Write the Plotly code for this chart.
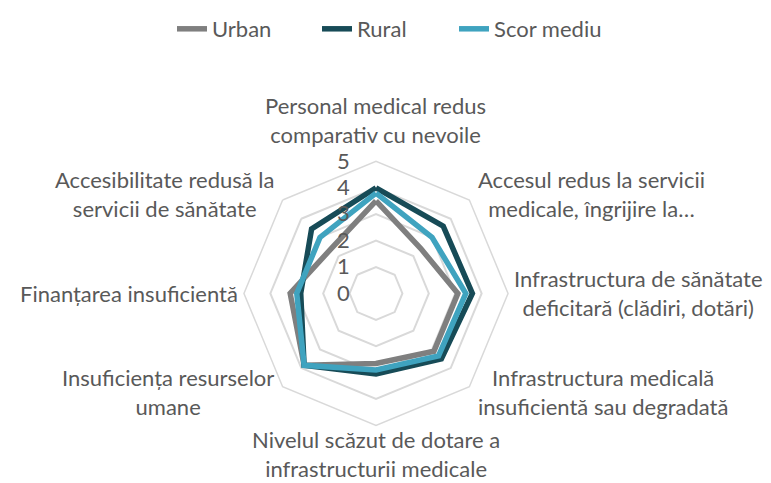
import math
import plotly.graph_objects as go

categories = [
    "Personal medical redus<br>comparativ cu nevoile",
    "Accesul redus la servicii<br>medicale, îngrijire la…",
    "Infrastructura de sănătate<br>deficitară (clădiri, dotări)",
    "Infrastructura medicală<br>insuficientă sau degradată",
    "Nivelul scăzut de dotare a<br>infrastructurii medicale",
    "Insuficiența resurselor<br>umane",
    "Finanțarea insuficientă",
    "Accesibilitate redusă la<br>servicii de sănătate",
]

urban = [3.5, 2.4, 3.1, 3.1, 2.65, 3.85, 3.25, 2.4]
rural = [4.0, 3.6, 3.65, 3.5, 3.05, 3.85, 2.85, 3.45]
scor_mediu = [3.8, 3.0, 3.4, 3.35, 2.9, 3.85, 3.0, 3.0]

series = [
    ("Urban", urban, "#7f7f7f", "legend"),
    ("Rural", rural, "#174b57", "legend2"),
    ("Scor mediu", scor_mediu, "#3fa3bf", "legend3"),
]

text_color = "#595959"
font_name = "Lato"
W, H = 771, 483
dom_x = [0.3035, 0.6511]
dom_y = [0.1377, 0.6925]

fig = go.Figure()
for name, vals, color, leg in series:
    fig.add_trace(go.Scatterpolar(
        r=vals + vals[:1],
        theta=categories + categories[:1],
        mode="lines",
        name=name,
        legend=leg,
        line=dict(color=color, width=5.5),
    ))

# category labels placed like Excel: just outside each vertex of the outer ring
cx = W * (dom_x[0] + dom_x[1]) / 2
cy = H * (dom_y[0] + dom_y[1]) / 2  # measured from bottom
R = W * (dom_x[1] - dom_x[0]) / 2
for k, lab in enumerate(categories):
    a = math.radians(90 - 45 * k)
    c, s = math.cos(a), math.sin(a)
    vx, vy = cx + R * c, cy + R * s
    if abs(c) < 0.1:
        xa, ya = "center", ("bottom" if s > 0 else "top")
        ox, oy = 0, (12 if s > 0 else 1)
    elif abs(s) < 0.1:
        xa, ya = ("left" if c > 0 else "right"), "middle"
        ox, oy = (2 if c > 0 else -2), 0
    else:
        xa, ya = ("left" if c > 0 else "right"), "middle"
        ox, oy = 5.7 * math.copysign(1, c), 5.7 * math.copysign(1, s)
    fig.add_annotation(
        x=(vx + ox) / W, y=(vy + oy) / H,
        xref="paper", yref="paper",
        text=lab, showarrow=False,
        xanchor=xa, yanchor=ya, align="center",
        font=dict(size=22, color=text_color, family=font_name),
    )

leg_style = dict(
    orientation="h", xanchor="left",
    y=0.971, yanchor="middle",
    bgcolor="rgba(0,0,0,0)",
    font=dict(size=22, color=text_color, family=font_name),
)

fig.update_layout(
    width=W,
    height=H,
    margin=dict(l=0, r=0, t=0, b=0),
    paper_bgcolor="white",
    plot_bgcolor="white",
    font=dict(family=font_name, size=22, color=text_color),
    showlegend=True,
    legend=dict(x=0.2127, **leg_style),
    legend2=dict(x=0.4008, **leg_style),
    legend3=dict(x=0.5785, **leg_style),
    polar=dict(
        domain=dict(x=dom_x, y=dom_y),
        gridshape="linear",
        bgcolor="white",
        radialaxis=dict(
            range=[0, 5],
            tickvals=[0, 1, 2, 3, 4, 5],
            angle=90,
            tickangle=90,
            side="counterclockwise",
            showline=False,
            ticks="outside",
            ticklen=18,
            tickcolor="rgba(0,0,0,0)",
            gridcolor="#d9d9d9",
            gridwidth=1.5,
            tickfont=dict(size=22, color=text_color),
        ),
        angularaxis=dict(
            direction="clockwise",
            rotation=90,
            showgrid=False,
            showline=True,
            linecolor="#d9d9d9",
            linewidth=1.5,
            ticks="",
            showticklabels=False,
        ),
    ),
)

fig.write_html("out.html")
